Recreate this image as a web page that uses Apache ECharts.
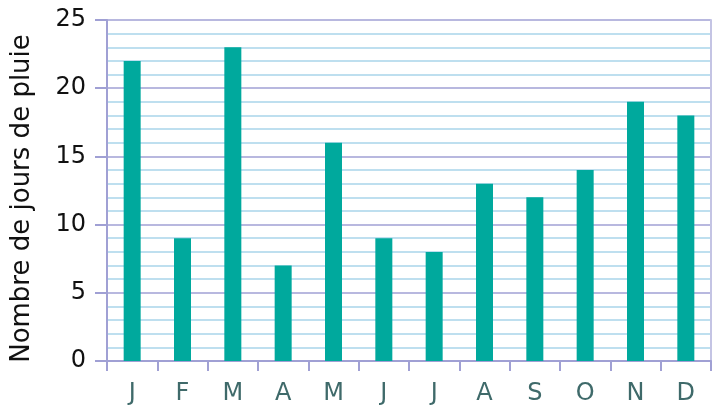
<!DOCTYPE html>
<html><head><meta charset="utf-8">
<script src="https://cdn.jsdelivr.net/npm/echarts@6/dist/echarts.min.js"></script>
<style>html,body{margin:0;padding:0;background:#fff}#c{width:724px;height:412px}</style>
</head><body><div id="c"></div>
<script>
const categories = ['J','F','M','A','M','J','J','A','S','O','N','D'];
const values = [22, 9, 23, 7, 16, 9, 8, 13, 12, 14, 19, 18];
const yTitle = 'Nombre de jours de pluie';

const chart = echarts.init(document.getElementById('c'));
const font = 'DejaVu Sans';
const major = '#a0a0d4';
chart.setOption({
  animation: false,
  grid: {left: 107, right: 13, top: 20, bottom: 51},
  xAxis: {
    type: 'category', data: categories, boundaryGap: true,
    axisLine: {lineStyle: {color: major, width: 2}},
    axisTick: {show: true, length: 10, lineStyle: {color: major, width: 2}},
    axisLabel: {color: '#3f6a6a', fontFamily: font, fontSize: 24, margin: 21}
  },
  yAxis: [{
    type: 'value', min: 0, max: 25, interval: 5,
    name: yTitle, nameLocation: 'middle', nameGap: 72,
    nameTextStyle: {color: '#111', fontFamily: font, fontSize: 26, padding: [0, 16, 0, 0]},
    axisLine: {show: true, lineStyle: {color: major, width: 2}},
    axisTick: {show: true, length: 12, lineStyle: {color: major, width: 2}},
    axisLabel: {color: '#111', fontFamily: font, fontSize: 24, margin: 21},
    splitLine: {show: true, lineStyle: {color: major, width: 1.6}},
    minorTick: {show: false, splitNumber: 5},
    minorSplitLine: {show: true, lineStyle: {color: '#a8d5ea', width: 1.6}}
  }, {
    type: 'value', min: 0, max: 25, interval: 5, position: 'right',
    axisLine: {show: true, lineStyle: {color: '#c4c4e4', width: 2}},
    axisTick: {show: false}, axisLabel: {show: false}, splitLine: {show: false}
  }],
  series: [{
    type: 'bar', data: values, barWidth: 17, yAxisIndex: 0,
    itemStyle: {color: '#00a99d'}
  }]
});
</script></body></html>
